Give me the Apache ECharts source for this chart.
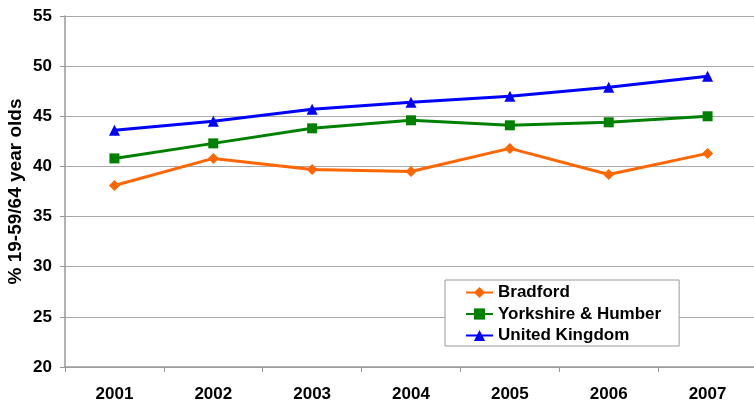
<!DOCTYPE html>
<html><head><meta charset="utf-8">
<script src="https://cdn.jsdelivr.net/npm/echarts@6/dist/echarts.min.js"></script>
<style>html,body{margin:0;padding:0;background:#fff}#c{width:754px;height:401px}</style>
</head><body><div id="c"></div>
<script>
var years = ['2001','2002','2003','2004','2005','2006','2007'];
var bradford = [38.1, 40.8, 39.7, 39.5, 41.8, 39.2, 41.3];
var yorkshire = [40.8, 42.3, 43.8, 44.6, 44.1, 44.4, 45.0];
var uk = [43.6, 44.5, 45.7, 46.4, 47.0, 47.9, 49.0];
var yTicks = [20, 25, 30, 35, 40, 45, 50, 55];

var FONT = '"Liberation Sans", Arial, sans-serif';
var chart = echarts.init(document.getElementById('c'), null, {renderer: 'canvas'});
function mk(name, data, color, symbol, size) {
  return {name: name, type: 'line', data: data, symbol: symbol, symbolSize: size,
    lineStyle: {color: color, width: 3}, itemStyle: {color: color}, z: 3, animation: false};
}
chart.setOption({
  animation: false,
  textStyle: {fontFamily: FONT},
  grid: {left: 65, top: 16, width: 692, height: 351, containLabel: false, outerBoundsMode: 'none'},
  xAxis: {type: 'category', data: years, boundaryGap: true,
    axisLine: {lineStyle: {color: '#999', width: 1.5}},
    axisTick: {show: true, length: 5, lineStyle: {color: '#999'}},
    axisLabel: {color: '#000', fontWeight: 'bold', fontSize: 17, fontFamily: FONT, margin: 19}},
  yAxis: {type: 'value', min: yTicks[0], max: yTicks[yTicks.length - 1], interval: 5,
    name: '% 19-59/64 year olds', nameLocation: 'middle', nameGap: 40, nameMoveOverlap: false,
    nameTextStyle: {color: '#000', fontWeight: 'bold', fontSize: 19, fontFamily: FONT},
    axisLine: {show: true, lineStyle: {color: '#999', width: 1.5}},
    axisTick: {show: true, length: 5, lineStyle: {color: '#999'}},
    splitLine: {lineStyle: {color: '#aaa', width: 1.2}},
    axisLabel: {color: '#000', fontWeight: 'bold', fontSize: 17, fontFamily: FONT, margin: 13}},
  legend: {orient: 'vertical', left: 445, top: 280, itemGap: 4.5,
    itemWidth: 27, itemHeight: 14,
    padding: [4, 18, 2, 20],
    borderColor: '#999', borderWidth: 1, backgroundColor: '#fff',
    textStyle: {color: '#000', fontWeight: 'bold', fontSize: 17, fontFamily: FONT},
    data: ['Bradford', 'Yorkshire & Humber', 'United Kingdom']},
  series: [
    mk('Bradford', bradford, '#ff6600', 'diamond', 11),
    mk('Yorkshire & Humber', yorkshire, '#008000', 'rect', 10),
    mk('United Kingdom', uk, '#0000ff', 'triangle', 11)
  ]
});
</script></body></html>
